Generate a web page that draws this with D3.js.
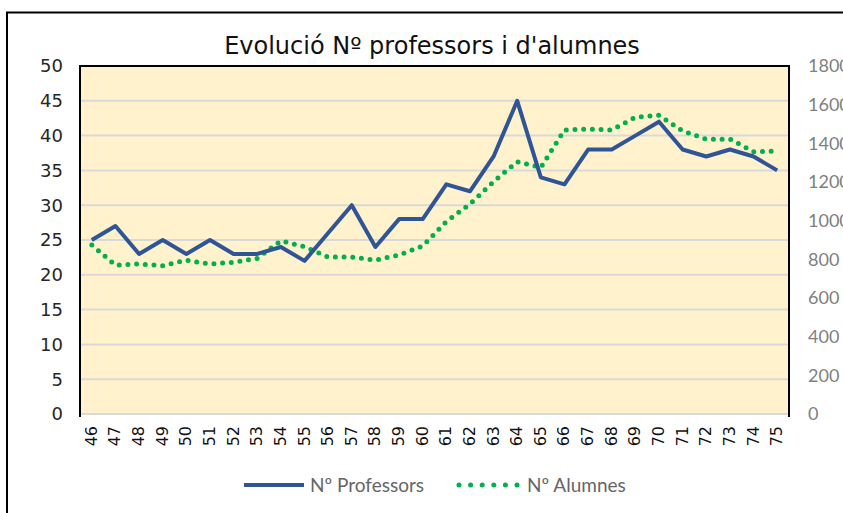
<!DOCTYPE html>
<html lang="ca">
<head>
<meta charset="UTF-8">
<title>Evolució Nº professors i d'alumnes</title>
<script src="https://d3js.org/d3.v7.min.js"></script>
<style>
    body { margin: 0; padding: 0; background: white; overflow: hidden; }
    svg { display: block; }
</style>
</head>
<body>
<div id="chart"></div>
<script>
// chart data
const years = ["46","47","48","49","50","51","52","53","54","55","56","57","58","59","60",
               "61","62","63","64","65","66","67","68","69","70","71","72","73","74","75"];
const professors = [25,27,23,25,23,25,23,23,24,22,26,30,24,28,28,33,32,37,45,34,33,38,38,40,42,38,37,38,37,35];
const alumnes = [874,770,776,767,795,776,785,805,896,865,812,812,796,822,869,995,1086,1202,1305,1275,
                 1469,1474,1469,1535,1545,1464,1421,1422,1357,1360];
const leftTicks = [0,5,10,15,20,25,30,35,40,45,50];
const rightTicks = [0,200,400,600,800,1000,1200,1400,1600,1800];

const W = 843, H = 513;
const plot = {left: 80, right: 789, top: 66, bottom: 414};

const svg = d3.select("#chart").append("svg")
    .attr("width", W).attr("height", H);

// outer chart border (right and bottom edges fall outside the window, as in the original)
svg.append("rect")
    .attr("x", 7).attr("y", 12.5)
    .attr("width", W).attr("height", H)
    .attr("fill", "white").attr("stroke", "black").attr("stroke-width", 2);

const x = d3.scaleBand().domain(years).range([plot.left, plot.right]);
const yL = d3.scaleLinear().domain([0, 50]).range([plot.bottom, plot.top]);
const yR = d3.scaleLinear().domain([0, 1800]).range([plot.bottom, plot.top]);

// plot background
svg.append("rect")
    .attr("x", plot.left).attr("y", plot.top)
    .attr("width", plot.right - plot.left).attr("height", plot.bottom - plot.top)
    .attr("fill", "#FFF2CC");

// gridlines
svg.append("g").selectAll("line")
    .data(leftTicks)
    .join("line")
    .attr("x1", plot.left).attr("x2", plot.right)
    .attr("y1", d => yL(d)).attr("y2", d => yL(d))
    .attr("stroke", "#D9D9D9").attr("stroke-width", 2);

// plot frame: top, left, right in black
svg.append("path")
    .attr("d", `M${plot.left},${plot.bottom + 3}V${plot.top}H${plot.right}V${plot.bottom + 3}`)
    .attr("fill", "none").attr("stroke", "black").attr("stroke-width", 2);

// left axis labels
svg.append("g").selectAll("text")
    .data(leftTicks)
    .join("text")
    .attr("x", 63).attr("y", d => yL(d))
    .attr("dy", "0.36em")
    .attr("text-anchor", "end")
    .attr("font-family", "DejaVu Sans, Verdana, sans-serif")
    .attr("font-size", 18)
    .attr("fill", "#262626")
    .text(d => d);

// right axis labels
svg.append("g").selectAll("text")
    .data(rightTicks)
    .join("text")
    .attr("x", 808).attr("y", d => yR(d))
    .attr("dy", "0.36em")
    .attr("text-anchor", "start")
    .attr("font-family", "Lato, 'Liberation Sans', sans-serif")
    .attr("font-size", 18)
    .attr("fill", "#7F7F7F")
    .text(d => d);

// x labels, rotated
svg.append("g").selectAll("text")
    .data(years)
    .join("text")
    .attr("transform", d => `translate(${x(d) + x.bandwidth() / 2 + 5},${plot.bottom + 12}) rotate(-90)`)
    .attr("text-anchor", "end")
    .attr("font-family", "DejaVu Sans, Verdana, sans-serif")
    .attr("font-size", 16)
    .attr("fill", "#111")
    .text(d => d);

const cx = d => x(d) + x.bandwidth() / 2;

// alumnes line (green dotted)
svg.append("path")
    .datum(alumnes)
    .attr("d", d3.line().x((d, i) => cx(years[i])).y(d => yR(d)))
    .attr("fill", "none")
    .attr("stroke", "#00B050")
    .attr("stroke-width", 5)
    .attr("stroke-linecap", "round")
    .attr("stroke-dasharray", "0,8.7");

// professors line (blue)
svg.append("path")
    .datum(professors)
    .attr("d", d3.line().x((d, i) => cx(years[i])).y(d => yL(d)))
    .attr("fill", "none")
    .attr("stroke", "#2F5597")
    .attr("stroke-width", 4)
    .attr("stroke-linejoin", "round");

// title
svg.append("text")
    .attr("x", 432).attr("y", 54)
    .attr("text-anchor", "middle")
    .attr("font-family", "DejaVu Sans, Verdana, sans-serif")
    .attr("font-size", 24)
    .attr("fill", "#111")
    .text("Evolució Nº professors i d'alumnes");

// legend
const leg = svg.append("g");
leg.append("line")
    .attr("x1", 244).attr("x2", 304).attr("y1", 485).attr("y2", 485)
    .attr("stroke", "#2F5597").attr("stroke-width", 4);
leg.append("text")
    .attr("x", 310).attr("y", 485).attr("dy", "0.36em")
    .attr("font-family", "Lato, 'Liberation Sans', sans-serif")
    .attr("font-size", 19).attr("fill", "#666")
    .text("Nº Professors");
leg.append("line")
    .attr("x1", 459).attr("x2", 518).attr("y1", 485).attr("y2", 485)
    .attr("stroke", "#00B050").attr("stroke-width", 5)
    .attr("stroke-linecap", "round").attr("stroke-dasharray", "0,11.6");
leg.append("text")
    .attr("x", 527).attr("y", 485).attr("dy", "0.36em")
    .attr("font-family", "Lato, 'Liberation Sans', sans-serif")
    .attr("font-size", 19).attr("fill", "#666")
    .text("Nº Alumnes");
</script>
</body>
</html>
